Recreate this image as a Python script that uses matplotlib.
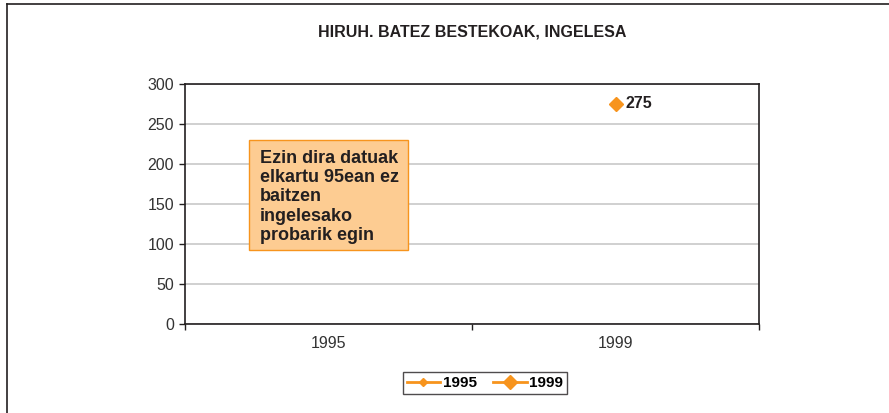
import numpy as np
import matplotlib.pyplot as plt
from matplotlib.patches import Rectangle
from matplotlib.lines import Line2D

plt.rcParams['font.family'] = ['Liberation Sans', 'DejaVu Sans']

# data
categories = ['1995', '1999']
serie_1995 = [np.nan, np.nan]
serie_1999 = [np.nan, 275]
series_names = ['1995', '1999']
note = 'Ezin dira datuak\nelkartu 95ean ez\nbaitzen\ningelesako\nprobarik egin'

orange = '#F7941D'
dark = '#231F20'

fig = plt.figure(figsize=(8.89, 4.13), dpi=100)
ax = fig.add_axes([185 / 889, 89 / 413, 574 / 889, 240 / 413])

x = np.arange(len(categories))
ax.plot(x, serie_1995, color=orange, marker='D', markersize=4, lw=2)
ax.plot(x, serie_1999, color=orange, marker='D', markersize=7.5, lw=2)

# value label
for xi, v in zip(x, serie_1999):
    if not np.isnan(v):
        ax.annotate(f'{v:g}', (xi, v), xytext=(7, 0), textcoords='offset points',
                    ha='left', va='center', fontsize=11.5, fontweight='bold', color=dark)

ax.set_xlim(-0.5, len(categories) - 0.5)
ax.set_ylim(0, 300)
ax.set_yticks(np.arange(0, 301, 50))
ax.set_xticks(x)
ax.set_xticklabels(categories)
ax.set_xticks(np.arange(-0.5, len(categories), 1), minor=True)
ax.tick_params(axis='x', which='major', length=0, pad=9, labelsize=11.5, labelcolor='#333333')
ax.tick_params(axis='x', which='minor', length=4, width=1, color=dark)
ax.tick_params(axis='y', length=4, width=1, color=dark, pad=4, labelsize=11.5, labelcolor='#333333')
ax.grid(axis='y', color='#C8C8C8', lw=1.2)
ax.set_axisbelow(True)
for s in ax.spines.values():
    s.set_color(dark)
    s.set_linewidth(1.2)

# note box
ax.add_patch(Rectangle((0.1115, 0.3083), 0.277, 0.4584, transform=ax.transAxes,
                       facecolor='#FDCC92', edgecolor=orange, lw=1, zorder=3))
ax.text(0.13, 0.725, note, transform=ax.transAxes, ha='left', va='top',
        fontsize=13, fontweight='bold', color=dark, linespacing=1.17, zorder=4)

# title
fig.text(472 / 889, 1 - 32 / 413, 'HIRUH. BATEZ BESTEKOAK, INGELESA',
         ha='center', va='center', fontsize=11.5, fontweight='bold', color=dark)

# legend
handles = [Line2D([], [], color=orange, marker='D', markersize=4, lw=2),
           Line2D([], [], color=orange, marker='D', markersize=7.5, lw=2)]
leg = fig.legend(handles, series_names, loc='center', bbox_to_anchor=(485 / 889, 1 - 383 / 413),
                 ncol=2, frameon=True, fancybox=False, edgecolor=dark, handlelength=2.2,
                 columnspacing=1.1, handletextpad=0.15, borderpad=0.25, borderaxespad=0,
                 prop={'weight': 'bold', 'size': 11})
leg.get_frame().set_linewidth(1)

# outer frame lines
fig.add_artist(Line2D([7 / 889, 7 / 889], [0, 1 - 4 / 413], color=dark, lw=1.2))
fig.add_artist(Line2D([7 / 889, 1], [1 - 4 / 413, 1 - 4 / 413], color=dark, lw=1.2))

fig.savefig('out.png', dpi=100)
